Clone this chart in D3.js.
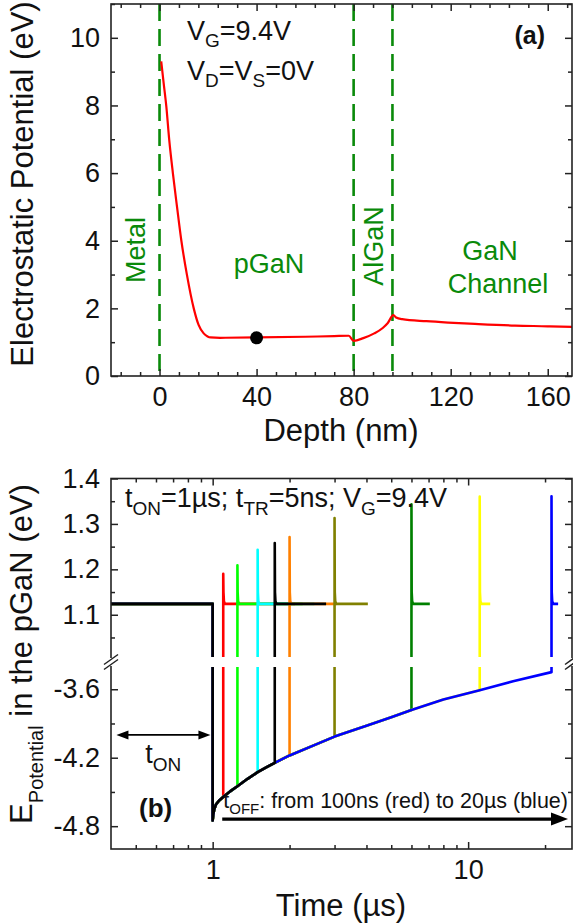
<!DOCTYPE html>
<html>
<head>
<meta charset="utf-8">
<script src="https://cdn.jsdelivr.net/npm/d3@7"></script>
<style>
  body { margin: 0; background: #fff; }
  svg { display: block; }
</style>
</head>
<body>
<svg id="chart" width="573" height="924"></svg>
<script>
// ---- panel (a): potential profile vs depth ----
const depthNm = [0.7, 1.7, 2.8, 4.0, 5.5, 7.2, 9.0, 11.3, 14.1, 16.1, 18.2, 19.8, 21, 25, 40, 60, 72, 78, 80,
                 84, 88.5, 92, 94, 96.4, 97.5, 100, 110, 119, 130, 146.5, 160, 170];
const potentialEv = [9.3, 8.66, 7.97, 6.98, 6.0, 5.01, 4.0, 2.99, 2.0, 1.51, 1.26, 1.17, 1.14, 1.13, 1.14, 1.16, 1.18, 1.19, 1.04,
                     1.12, 1.26, 1.42, 1.56, 1.80, 1.73, 1.68, 1.62, 1.58, 1.54, 1.49, 1.47, 1.45];
const layerEdgesNm = [0, 80, 96];
const probeDepthNm = [40];
const probePotEv = [1.13];
const xTicksA = [0, 40, 80, 120, 160];
const xMinorA = [-16, -8, 8, 16, 24, 32, 48, 56, 64, 72, 88, 96, 104, 112, 128, 136, 144, 152, 168];
const yTicksA = [0, 2, 4, 6, 8, 10];
const yMinorA = [1, 3, 5, 7, 9, 11];

// ---- panel (b): potential in the pGaN vs time ----
const tOffNames = ["100ns", "250ns", "500ns", "750ns", "1µs", "2µs", "5µs", "10µs", "20µs"];
const switchTime = [1.1, 1.25, 1.5, 1.75, 2.0, 3.0, 6.0, 11.1, 21.2];
const endTime = [2.1, 2.25, 2.5, 2.78, 3.05, 4.05, 7.08, 12.2, 22.5];
const peakEv = [1.19, 1.209, 1.243, 1.258, 1.271, 1.313, 1.343, 1.36, 1.361];
const curveColors = ["#ff0000", "#00ff00", "#00ffff", "#000000", "#ff8000", "#808000", "#008000", "#ffff00", "#0000ff"];
const drawOrder = [0, 1, 2, 4, 5, 6, 7, 8, 3];
const onEv = 1.124;
const offTime = [1.0, 1.005, 1.015, 1.03, 1.06, 1.1, 1.17, 1.25, 1.37, 1.5, 1.62, 1.75, 1.87, 2.0, 2.5, 3.0, 4, 5, 6, 8, 11.1, 15, 21.2];
const offEv = [-4.75, -4.70, -4.65, -4.61, -4.575, -4.545, -4.495, -4.45, -4.385, -4.327, -4.285, -4.245, -4.212, -4.18, -4.09, -4.015,
               -3.92, -3.845, -3.782, -3.69, -3.608, -3.53, -3.45];
const yTicksHigh = [1.1, 1.2, 1.3, 1.4];
const yMinorHigh = [1.05, 1.15, 1.25, 1.35];
const yTicksLow = [-4.8, -4.2, -3.6];
const yMinorLow = [-4.5, -3.9];
const xTicksB = [1, 10];
const xMinorB = [0.5, 0.6, 0.7, 0.8, 0.9, 2, 3, 4, 5, 6, 7, 8, 9, 20];

const FONT = '"Liberation Sans", Arial, sans-serif';
const TICK_FONT = 27;
const svg = d3.select("#chart");

function addAxis(axis, transform) {
  const a = svg.append("g").attr("transform", transform).call(axis)
    .attr("font-family", FONT).attr("font-size", TICK_FONT);
  a.select(".domain").remove();
  a.selectAll("line").attr("stroke", "#222").attr("stroke-width", 1.5);
  a.selectAll("text").attr("fill", "#111");
  return a;
}

function txt(x, y, size, color) {
  return svg.append("text").attr("x", x).attr("y", y).attr("font-family", FONT)
    .attr("font-size", size).attr("fill", color || "#111");
}

// subscripted text: parts = [[text, isSub], ...]
function richText(sel, parts, subSize, dy) {
  let down = false;
  parts.forEach(p => {
    const t = sel.append("tspan").text(p[0]);
    if (p[1] && !down) { t.attr("dy", dy).attr("font-size", subSize); down = true; }
    else if (p[1]) { t.attr("font-size", subSize); }
    else if (!p[1] && down) { t.attr("dy", -dy); down = false; }
  });
  return sel;
}

// ================= PANEL A =================
const xA = d3.scaleLinear().domain([-20, 170]).range([111, 572]);
const yA = d3.scaleLinear().domain([0, 11]).range([376, 4]);

svg.append("clipPath").attr("id", "clipA").append("rect")
  .attr("x", 111).attr("y", 4).attr("width", 461).attr("height", 372);

svg.append("g").selectAll("line").data(layerEdgesNm).join("line")
  .attr("x1", d => xA(d)).attr("x2", d => xA(d))
  .attr("y1", yA(11)).attr("y2", yA(0))
  .attr("stroke", "#0a8a0a").attr("stroke-width", 2.6).attr("stroke-dasharray", "17,8");

const lineA = d3.line().x((d, i) => xA(d)).y((d, i) => yA(potentialEv[i])).curve(d3.curveMonotoneX);
svg.append("path").datum(depthNm).attr("d", lineA).attr("clip-path", "url(#clipA)")
  .attr("fill", "none").attr("stroke", "#ff0000").attr("stroke-width", 2.2);

svg.append("g").selectAll("circle").data(probeDepthNm).join("circle")
  .attr("cx", d => xA(d)).attr("cy", (d, i) => yA(probePotEv[i])).attr("r", 6.5).attr("fill", "#000");

svg.append("rect").attr("x", 111).attr("y", 4).attr("width", 461).attr("height", 372)
  .attr("fill", "none").attr("stroke", "#222").attr("stroke-width", 1.6);

addAxis(d3.axisBottom(xA).tickValues(xTicksA).tickSize(-7).tickPadding(11).tickFormat(d3.format("d")), "translate(0,376)");
addAxis(d3.axisBottom(xA).tickValues(xMinorA).tickSize(-4).tickFormat(""), "translate(0,376)");
addAxis(d3.axisTop(xA).tickValues(xTicksA).tickSize(-7).tickFormat(""), "translate(0,4)");
addAxis(d3.axisTop(xA).tickValues(xMinorA).tickSize(-4).tickFormat(""), "translate(0,4)");
addAxis(d3.axisLeft(yA).tickValues(yTicksA).tickSize(-7).tickPadding(11).tickFormat(d3.format("d")), "translate(111,0)");
addAxis(d3.axisLeft(yA).tickValues(yMinorA).tickSize(-4).tickFormat(""), "translate(111,0)");
addAxis(d3.axisRight(yA).tickValues(yTicksA).tickSize(-7).tickFormat(""), "translate(572,0)");
addAxis(d3.axisRight(yA).tickValues(yMinorA).tickSize(-4).tickFormat(""), "translate(572,0)");

// labels panel a
txt(0, 0, 31).attr("text-anchor", "middle").attr("transform", "translate(33,184) rotate(-90)")
  .text("Electrostatic Potential (eV)");
txt(341, 441, 31).attr("text-anchor", "middle").text("Depth (nm)");
richText(txt(187, 40, 27), [["V", 0], ["G", 1], ["=9.4V", 0]], 19, 7);
richText(txt(187, 80, 27), [["V", 0], ["D", 1], ["=V", 0], ["S", 1], ["=0V", 0]], 19, 7);
txt(545, 44, 25).attr("text-anchor", "end").attr("font-weight", "bold").text("(a)");
const GREEN = "#0a8a0a";
txt(0, 0, 27, GREEN).attr("text-anchor", "middle").attr("transform", "translate(145,250) rotate(-90)").text("Metal");
txt(0, 0, 27, GREEN).attr("text-anchor", "middle").attr("transform", "translate(383,246) rotate(-90)").text("AlGaN");
txt(269, 273, 27, GREEN).attr("text-anchor", "middle").text("pGaN");
txt(490, 260, 27, GREEN).attr("text-anchor", "middle").text("GaN");
txt(498, 293, 27, GREEN).attr("text-anchor", "middle").text("Channel");

// ================= PANEL B =================
const xB = d3.scaleLog().domain([0.4, 25.5]).range([111, 572]);
const yHigh = d3.scaleLinear().domain([1.007, 1.4]).range([657, 478.5]);
const yLow = d3.scaleLinear().domain([-5.0, -3.405]).range([849, 667]);

svg.append("clipPath").attr("id", "clipHigh").append("rect")
  .attr("x", 111).attr("y", 478.5).attr("width", 461).attr("height", 657 - 478.5);
svg.append("clipPath").attr("id", "clipLow").append("rect")
  .attr("x", 111).attr("y", 667).attr("width", 461).attr("height", 849 - 667);

function pulsePoints(i) {
  const ts = switchTime[i];
  const pts = [[0.4, onEv], [1.0, onEv]];
  offTime.forEach((t, k) => { if (t <= ts + 1e-9) pts.push([t, offEv[k]]); });
  pts.push([ts, peakEv[i]], [ts * 1.002, 1.15], [ts * 1.006, 1.13], [ts * 1.015, onEv], [endTime[i], onEv]);
  return pts;
}

[[yHigh, "clipHigh"], [yLow, "clipLow"]].forEach(([ys, clip]) => {
  const ln = d3.line().x(d => xB(d[0])).y(d => ys(d[1]));
  const g = svg.append("g").attr("clip-path", `url(#${clip})`);
  drawOrder.forEach(i => {
    g.append("path").datum(pulsePoints(i)).attr("d", ln)
      .attr("fill", "none").attr("stroke", curveColors[i]).attr("stroke-width", 2.6)
      .attr("stroke-linejoin", "round");
  });
});

svg.append("rect").attr("x", 111).attr("y", 478.5).attr("width", 461).attr("height", 849 - 478.5)
  .attr("fill", "none").attr("stroke", "#222").attr("stroke-width", 1.6);

addAxis(d3.axisBottom(xB).tickValues(xTicksB).tickSize(-7).tickPadding(11).tickFormat(d3.format("d")), "translate(0,849)");
addAxis(d3.axisBottom(xB).tickValues(xMinorB).tickSize(-4).tickFormat(""), "translate(0,849)");
addAxis(d3.axisTop(xB).tickValues(xTicksB).tickSize(-7).tickFormat(""), "translate(0,478.5)");
addAxis(d3.axisTop(xB).tickValues(xMinorB).tickSize(-4).tickFormat(""), "translate(0,478.5)");
[[yHigh, yTicksHigh, yMinorHigh], [yLow, yTicksLow, yMinorLow]].forEach(([ys, maj, mnr]) => {
  addAxis(d3.axisLeft(ys).tickValues(maj).tickSize(-7).tickPadding(11).tickFormat(d => d.toFixed(1)), "translate(111,0)");
  addAxis(d3.axisLeft(ys).tickValues(mnr).tickSize(-4).tickFormat(""), "translate(111,0)");
  addAxis(d3.axisRight(ys).tickValues(maj).tickSize(-7).tickFormat(""), "translate(572,0)");
  addAxis(d3.axisRight(ys).tickValues(mnr).tickSize(-4).tickFormat(""), "translate(572,0)");
});

// axis break marks
[111, 572].forEach(x0 => {
  const yc = 662;
  svg.append("rect").attr("x", x0 - 3).attr("y", yc - 4).attr("width", 6).attr("height", 8).attr("fill", "#fff");
  [-2.5, 2.5].forEach(o => {
    svg.append("line").attr("x1", x0 - 7).attr("y1", yc + o + 5).attr("x2", x0 + 7).attr("y2", yc + o - 5)
      .attr("stroke", "#222").attr("stroke-width", 1.5);
  });
});

// arrows
function arrowHead(x, y, dir, len, half) {
  svg.append("path").attr("d", `M${x},${y} L${x - dir * len},${y - half} L${x - dir * len},${y + half} Z`).attr("fill", "#000");
}
const tonY = yLow(-4.0), tonX1 = xB(0.42), tonX2 = xB(0.98);
svg.append("line").attr("x1", tonX1 + 6).attr("x2", tonX2 - 6).attr("y1", tonY).attr("y2", tonY)
  .attr("stroke", "#000").attr("stroke-width", 1.6);
arrowHead(tonX1, tonY, -1, 12, 4.5);
arrowHead(tonX2, tonY, 1, 12, 4.5);
richText(txt(xB(0.64), yLow(-4.246), 27).attr("text-anchor", "middle"), [["t", 0], ["ON", 1]], 19, 8);

const toffY = yLow(-4.738), toffX1 = xB(1.09), toffX2 = xB(24.6);
svg.append("line").attr("x1", toffX1).attr("x2", toffX2 - 10).attr("y1", toffY).attr("y2", toffY)
  .attr("stroke", "#000").attr("stroke-width", 3.2);
arrowHead(toffX2, toffY, 1, 17, 6.5);
richText(txt(xB(1.1), yLow(-4.64), 21.5), [["t", 0], ["OFF", 1], [": from 100ns (red) to 20µs (blue)", 0]], 15, 6);

richText(txt(125, 507, 27), [["t", 0], ["ON", 1], ["=1µs; t", 0], ["TR", 1], ["=5ns; V", 0], ["G", 1], ["=9.4V", 0]], 19, 8);
txt(139, 817, 26).attr("font-weight", "bold").text("(b)");

// axis titles panel b
txt(341, 916, 31).attr("text-anchor", "middle").text("Time (µs)");
richText(txt(0, 0, 31).attr("text-anchor", "middle").attr("transform", "translate(32,654) rotate(-90)"),
  [["E", 0], ["Potential", 1], [" in the pGaN (eV)", 0]], 20, 11);
</script>
</body>
</html>
